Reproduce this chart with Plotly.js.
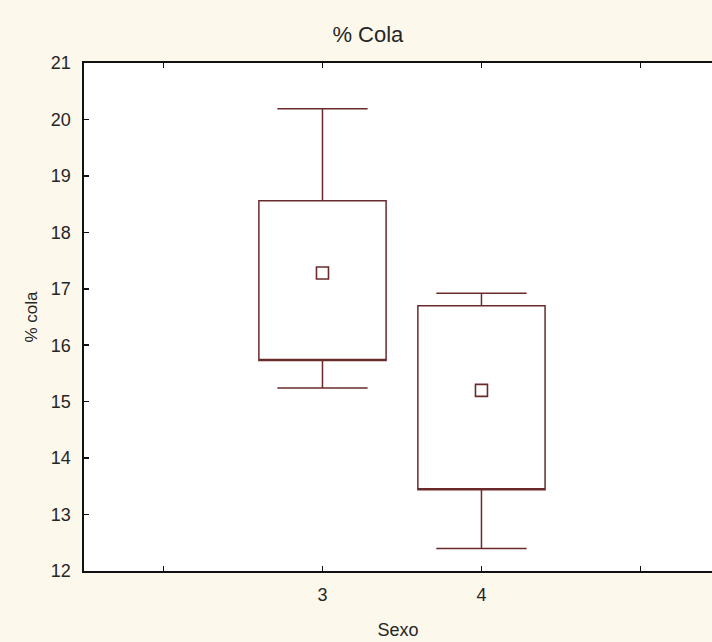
<!DOCTYPE html>
<html>
<head>
<meta charset="utf-8">
<script src="https://cdn.plot.ly/plotly-3.0.1.min.js"></script>
<style>html,body{margin:0;padding:0;overflow:hidden;background:#FBF7EC;}</style>
</head>
<body>
<div id="chart" style="width:712px;height:642px;"></div>
<script>
// Data
const categories = [3, 4];
const upperWhisker = [20.19, 16.92];
const q3Values = [18.56, 16.70];
const meanValues = [17.28, 15.20];
const q1Values = [15.73, 13.44];
const lowerWhisker = [15.24, 12.40];
const xTickVals = [2, 3, 4, 5];
const xTickText = ['', '3', '4', ''];
const yTickVals = [12, 13, 14, 15, 16, 17, 18, 19, 20, 21];

const lineColor = '#6B2A2A';

const boxTrace = {
  type: 'box',
  x: categories,
  q1: q1Values,
  q3: q3Values,
  median: q1Values,
  lowerfence: lowerWhisker,
  upperfence: upperWhisker,
  width: 0.8,
  whiskerwidth: 0.71,
  fillcolor: 'rgba(0,0,0,0)',
  line: {color: lineColor, width: 1.5},
  boxpoints: false,
  hoverinfo: 'skip',
  showlegend: false
};

const meanTrace = {
  type: 'scatter',
  mode: 'markers',
  x: categories,
  y: meanValues,
  marker: {symbol: 'square-open', size: 12, color: lineColor, line: {width: 1.6, color: lineColor}},
  hoverinfo: 'skip',
  showlegend: false
};

const layout = {
  width: 712,
  height: 642,
  margin: {l: 84, r: 0, t: 63, b: 71},
  paper_bgcolor: '#FCF8EC',
  plot_bgcolor: '#FFFFFF',
  font: {family: 'Liberation Sans, Arial, sans-serif', color: '#262626'},
  title: {text: '% Cola', font: {size: 22, color: '#262626'}, x: 0.452, xref: 'paper', xanchor: 'center', y: 1, yref: 'container', yanchor: 'top', pad: {t: 27}},
  xaxis: {
    range: [1.5, 5.45],
    tickmode: 'array',
    tickvals: xTickVals,
    ticktext: xTickText,
    ticks: 'inside',
    ticklen: 5,
    tickwidth: 1.5,
    tickcolor: '#111',
    showline: true,
    linecolor: '#111',
    linewidth: 1.6,
    mirror: 'ticks',
    showgrid: false,
    zeroline: false,
    tickfont: {size: 18},
    ticklabelstandoff: 7,
    title: {text: 'Sexo', font: {size: 18}, standoff: 19}
  },
  yaxis: {
    range: [12, 21],
    tickmode: 'array',
    tickvals: yTickVals,
    ticks: 'inside',
    ticklen: 5,
    tickwidth: 1.5,
    tickcolor: '#111',
    showline: true,
    linecolor: '#111',
    linewidth: 1.6,
    mirror: false,
    showgrid: false,
    zeroline: false,
    tickfont: {size: 18},
    ticklabelstandoff: 8,
    title: {text: '% cola', font: {size: 17}, standoff: 9}
  }
};

Plotly.newPlot('chart', [boxTrace, meanTrace], layout, {displayModeBar: false, staticPlot: true});
</script>
</body>
</html>
